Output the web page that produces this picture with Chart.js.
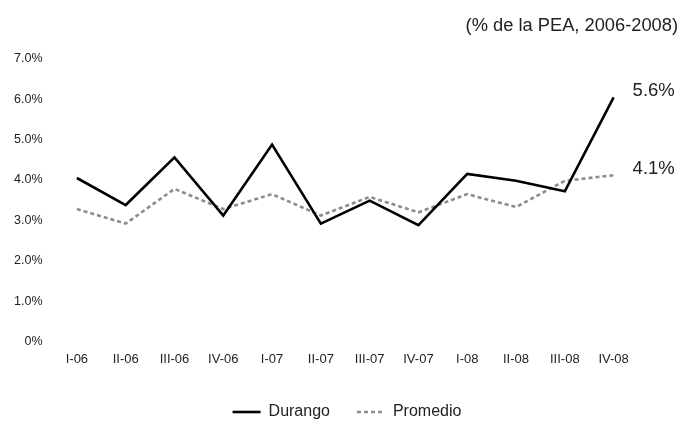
<!DOCTYPE html>
<html>
<head>
<meta charset="utf-8">
<script src="https://cdn.jsdelivr.net/npm/chart.js@4/dist/chart.umd.min.js"></script>
<style>
  body { margin: 0; background: #fff; }
  #wrap { width: 690px; height: 423px; }
</style>
</head>
<body>
<div id="wrap"><canvas id="desempleo"></canvas></div>
<script>
// Tasa de desocupación trimestral
const quarters = ['I-06', 'II-06', 'III-06', 'IV-06', 'I-07', 'II-07', 'III-07', 'IV-07', 'I-08', 'II-08', 'III-08', 'IV-08'];
const durango = [4.05, 3.38, 4.56, 3.12, 4.88, 2.92, 3.49, 2.88, 4.15, 3.98, 3.72, 6.05];
const promedio = [3.28, 2.92, 3.78, 3.28, 3.65, 3.12, 3.58, 3.2, 3.65, 3.33, 3.98, 4.12];
const endLabels = ['5.6%', '4.1%'];
const subtitle = '(% de la PEA, 2006-2008)';

const FONT = "'Liberation Sans', 'DejaVu Sans', sans-serif";

// closing values next to the last point, plus the unit note at top right
const extrasPlugin = {
    id: 'extras',
    afterDatasetsDraw(chart) {
        const ctx = chart.ctx;
        ctx.save();
        ctx.font = '18.5px ' + FONT;
        ctx.fillStyle = '#222';
        ctx.textBaseline = 'middle';
        chart.data.datasets.forEach((ds, i) => {
            const pts = chart.getDatasetMeta(i).data;
            const last = pts[pts.length - 1];
            ctx.fillText(endLabels[i], last.x + 19, last.y - 6);
        });
        ctx.textAlign = 'right';
        ctx.font = '18.3px ' + FONT;
        ctx.fillText(subtitle, chart.width - 12, 26);
        ctx.restore();
    }
};

new Chart(document.getElementById('desempleo').getContext('2d'), {
    type: 'line',
    data: {
        labels: quarters,
        datasets: [{
            label: 'Durango',
            data: durango,
            borderColor: '#000',
            borderWidth: 2.6,
            pointRadius: 0,
            pointStyle: 'line',
            tension: 0
        }, {
            label: 'Promedio',
            data: promedio,
            borderColor: '#8c8c8c',
            borderWidth: 2.6,
            borderDash: [4, 3],
            pointRadius: 0,
            pointStyle: 'line',
            tension: 0
        }]
    },
    options: {
        responsive: true,
        maintainAspectRatio: false,
        animation: false,
        layout: {
            padding: { top: 59, right: 0, left: 4, bottom: -7 }
        },
        scales: {
            x: {
                offset: true,
                grid: { display: false, drawTicks: false },
                border: { display: false },
                ticks: {
                    color: '#222',
                    padding: 10,
                    maxRotation: 0,
                    font: { family: FONT, size: 13 }
                }
            },
            y: {
                min: 0,
                max: 7,
                grid: { display: false, drawTicks: false },
                border: { display: false },
                ticks: {
                    stepSize: 1,
                    color: '#222',
                    padding: 10,
                    font: { family: FONT, size: 12.5 },
                    callback: v => v === 0 ? '0%' : v.toFixed(1) + '%'
                }
            },
            // empty right axis keeps room for the end labels
            yRight: {
                position: 'right',
                min: 0,
                max: 7,
                grid: { display: false, drawTicks: false },
                border: { display: false },
                ticks: { display: false },
                afterFit: s => { s.width = 52; }
            }
        },
        plugins: {
            legend: {
                position: 'bottom',
                labels: {
                    usePointStyle: true,
                    pointStyleWidth: 28,
                    color: '#222',
                    padding: 27,
                    font: { family: FONT, size: 16 },
                    generateLabels(chart) {
                        const items = Chart.defaults.plugins.legend.labels.generateLabels(chart);
                        items.forEach(item => {
                            const ds = chart.data.datasets[item.datasetIndex];
                            item.strokeStyle = ds.borderColor;
                            item.lineDash = ds.borderDash || [];
                            item.lineWidth = 2.6;
                        });
                        return items;
                    }
                }
            },
            tooltip: { enabled: false }
        }
    },
    plugins: [extrasPlugin]
});
</script>
</body>
</html>
